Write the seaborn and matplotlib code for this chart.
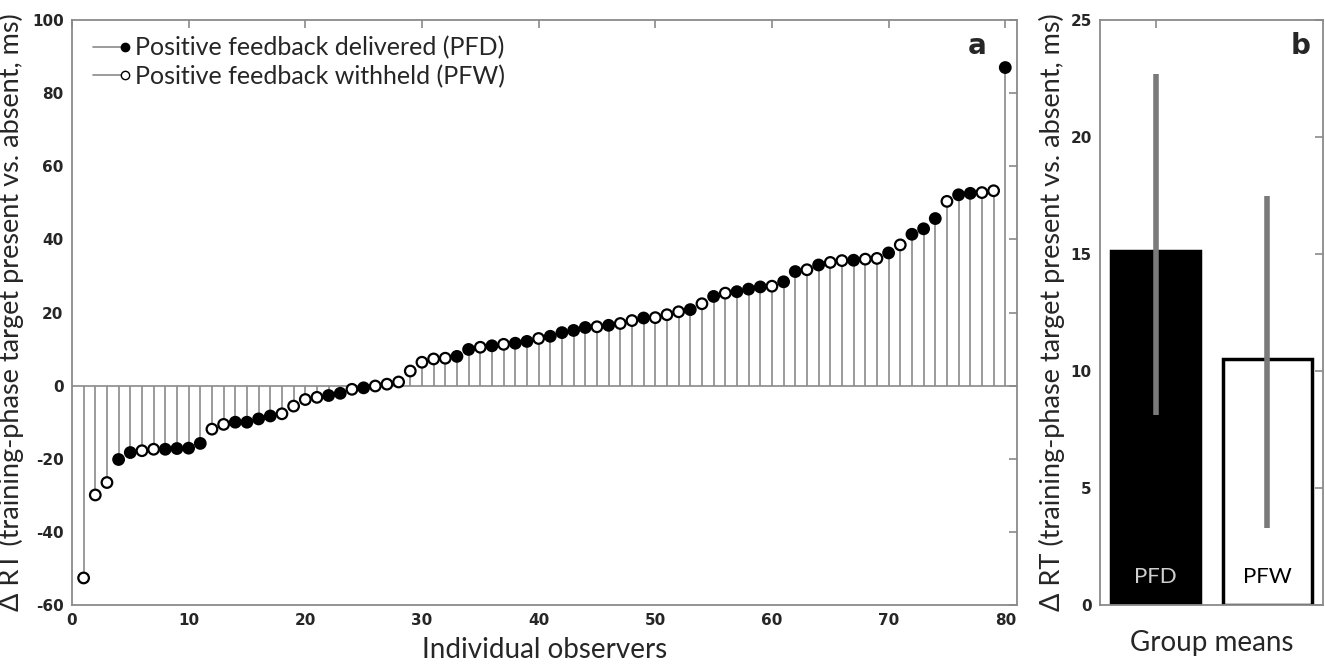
import numpy as np
import pandas as pd
import seaborn as sns
import matplotlib
matplotlib.use("Agg")
import matplotlib.pyplot as plt
from matplotlib.lines import Line2D
from matplotlib.legend_handler import HandlerLine2D

# individual observers, sorted by RT difference (ms)
observers = list(range(1, 81))
rt_diff = [-52.6, -29.9, -26.5, -20.2, -18.3, -17.8, -17.4, -17.4, -17.2, -17.1,
           -15.8, -11.9, -10.6, -10.0, -10.0, -9.1, -8.3, -7.7, -5.6, -3.8,
           -3.2, -2.7, -2.1, -1.0, -0.6, -0.1, 0.4, 1.0, 4.0, 6.4,
           7.3, 7.5, 8.0, 9.9, 10.5, 10.9, 11.3, 11.6, 12.1, 12.9,
           13.5, 14.5, 15.1, 15.9, 16.1, 16.5, 17.0, 17.8, 18.5, 18.6,
           19.4, 20.2, 20.8, 22.4, 24.4, 25.3, 25.7, 26.4, 27.0, 27.2,
           28.4, 31.2, 31.7, 33.0, 33.7, 34.2, 34.3, 34.6, 34.8, 36.3,
           38.5, 41.4, 42.9, 45.7, 50.4, 52.2, 52.6, 52.8, 53.3, 87.0]
pfd_observers = [4, 5, 8, 9, 10, 11, 14, 15, 16, 17, 22, 23, 25, 33, 34, 36, 38,
                 39, 41, 42, 43, 44, 46, 49, 53, 55, 57, 58, 59, 61, 62, 64, 67,
                 70, 72, 73, 74, 76, 77, 80]

# group means with confidence intervals
group_names = ["PFD", "PFW"]
group_means = [15.15, 10.5]
ci_low = [8.1, 3.3]
ci_high = [22.7, 17.5]

legend_labels = ["Positive feedback delivered (PFD)", "Positive feedback withheld (PFW)"]
ylabel = "\u0394 RT (training-phase target present vs. absent, ms)"

df = pd.DataFrame({"obs": observers, "rt": rt_diff})
df["group"] = np.where(df["obs"].isin(pfd_observers), "PFD", "PFW")

sns.set_style("white")
plt.rcParams["font.family"] = ["Lato", "DejaVu Sans"]
plt.rcParams["axes.unicode_minus"] = False

GRAY = "#8a8a8a"
TICKFONT = ["Liberation Sans Narrow", "DejaVu Sans"]


class EndMarkerHandler(HandlerLine2D):
    """line with the marker sitting at its right end, like MATLAB"""
    def create_artists(self, legend, orig_handle, xdescent, ydescent,
                       width, height, fontsize, trans):
        artists = super().create_artists(legend, orig_handle, xdescent, ydescent,
                                         width, height, fontsize, trans)
        for a in artists:
            a.set_markevery([-1])
        return artists


def style_box(ax):
    for sp in ax.spines.values():
        sp.set_visible(True)
        sp.set_color(GRAY)
        sp.set_linewidth(1.3)
    ax.tick_params(direction="in", length=6, width=1.2, color=GRAY,
                   top=True, right=True, labelsize=11, pad=6)
    for lab in ax.get_xticklabels() + ax.get_yticklabels():
        lab.set_family(TICKFONT)
        lab.set_fontweight("bold")


fig = plt.figure(figsize=(13.25, 6.65), dpi=100)
ax1 = fig.add_axes([0.0543, 0.0902, 0.7132, 0.8797])
ax2 = fig.add_axes([0.8302, 0.0902, 0.1683, 0.8797])

# panel a: stem plot
ax1.axhline(0, color=GRAY, lw=1.2, zorder=1)
ax1.vlines(df["obs"], 0, df["rt"], color=GRAY, lw=1.2, zorder=1)
sns.scatterplot(data=df, x="obs", y="rt", hue="group",
                palette={"PFD": "black", "PFW": "white"},
                edgecolor="black", linewidth=1.6, s=58, legend=False,
                zorder=3, ax=ax1)
ax1.set_xlim(0, 81)
ax1.set_ylim(-60, 100)
ax1.set_xticks(range(0, 81, 10))
ax1.set_yticks(range(-60, 101, 20))
ax1.set_xlabel("Individual observers", fontsize=20, labelpad=6)
ax1.set_ylabel(ylabel, fontsize=19.5, labelpad=6)
style_box(ax1)

handles = [Line2D([], [], color=GRAY, lw=1.2, marker="o", markersize=6,
                  markerfacecolor="black", markeredgecolor="black"),
           Line2D([], [], color=GRAY, lw=1.2, marker="o", markersize=6,
                  markerfacecolor="white", markeredgecolor="black")]
ax1.legend(handles, legend_labels, loc="upper left", bbox_to_anchor=(0.022, 0.972),
           frameon=False, fontsize=18, handlelength=1.3, handletextpad=0.4,
           labelspacing=0.2, borderaxespad=0, borderpad=0,
           handler_map={Line2D: EndMarkerHandler(numpoints=1)})
ax1.text(0.958, 0.955, "a", transform=ax1.transAxes, fontsize=20,
         fontweight="bold", family="DejaVu Sans", ha="center", va="center")

# panel b: group means
sns.barplot(x=group_names, y=group_means, hue=group_names,
            palette=["black", "white"], edgecolor="black", linewidth=2.5,
            width=0.8, legend=False, ax=ax2)
ax2.vlines([0, 1], ci_low, ci_high, color="#7a7a7a", lw=4, zorder=4)
ax2.text(0, 1.2, group_names[0], color="#cfcfcf", fontsize=16,
         ha="center", va="center", zorder=5)
ax2.text(1, 1.2, group_names[1], color="black", fontsize=16,
         ha="center", va="center", zorder=5)
ax2.set_xlim(-0.5, 1.5)
ax2.set_ylim(0, 25)
ax2.set_xticks([0])
ax2.set_xticklabels([""])
ax2.set_yticks(range(0, 26, 5))
ax2.set_xlabel("Group means", fontsize=20, labelpad=12)
ax2.set_ylabel(ylabel, fontsize=19.5, labelpad=4)
style_box(ax2)
ax2.text(0.9, 0.955, "b", transform=ax2.transAxes, fontsize=20,
         fontweight="bold", family="DejaVu Sans", ha="center", va="center")

fig.savefig("out.png", dpi=100)
